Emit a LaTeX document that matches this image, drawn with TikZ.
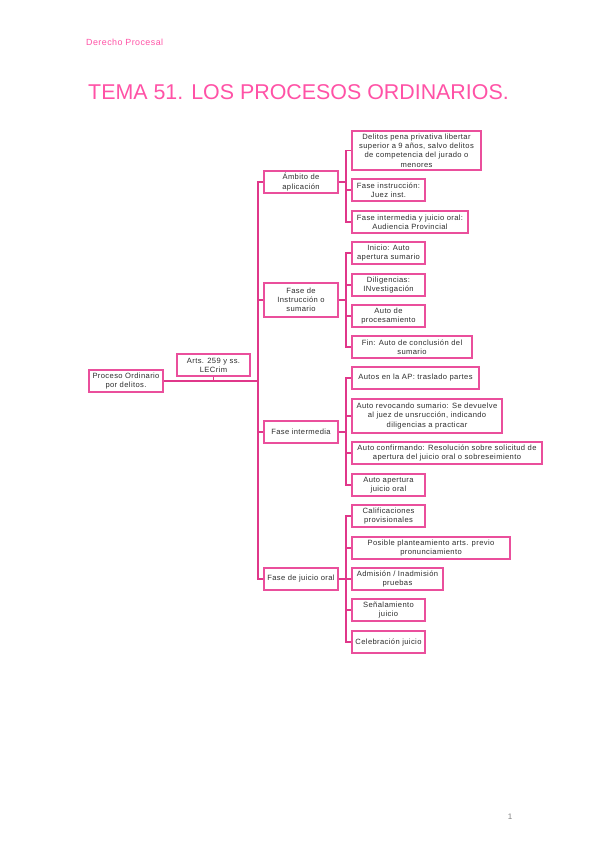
\documentclass[tikz,border=0pt]{standalone}
\usepackage{fontspec}
\setmainfont{Liberation Sans}
\newfontfamily\spacedfont[LetterSpace=5]{Liberation Sans}
\usepackage{tikz}
\usetikzlibrary{positioning}
\usepackage{xcolor}

\definecolor{pinkline}{HTML}{E0378A}
\definecolor{pinkbox}{HTML}{EA4F9C}
\definecolor{pinktitle}{HTML}{FF52A6}
\definecolor{boxtext}{HTML}{2E2E2E}

\begin{document}
\begin{tikzpicture}[
    x=1pt, y=-1pt,
    box/.style={draw=pinkbox, line width=2pt, fill=white, align=center,
        text=boxtext, font=\spacedfont\fontsize{7.6}{9.2}\selectfont,
        inner xsep=1pt, inner ysep=1pt, minimum height=22pt, anchor=west},
    phase/.style={box, minimum width=74pt},
    leaf/.style={box, minimum width=73pt},
    link/.style={draw=pinkline, line width=1.8pt}
]
    \useasboundingbox (0,0) rectangle (599,848);

    % Header and title
    \node[anchor=west, text=pinktitle, font=\spacedfont\fontsize{8.9}{9}\selectfont, inner sep=0pt] (header) at (86,42) {Derecho Procesal};
    \node[anchor=west, text=pinktitle, font=\fontsize{21.4}{24}\selectfont, inner sep=0pt] (title) at (88,92) {TEMA 51. LOS PROCESOS ORDINARIOS.};
    \node[text=gray, font=\fontsize{8}{9}\selectfont, inner sep=0pt] (pagenum) at (510,817) {1};

    % Define nodes
    \node[box, minimum width=74pt] (proceso) at (88,381) {Proceso Ordinario\\por delitos.};
    \node[box, minimum width=73pt] (arts) at (176,365) {Arts. 259 y ss.\\LECrim};

    \node[phase] (ambito) at (263,182) {Ámbito de\\aplicación};
    \node[phase, minimum height=34pt] (instruccion) at (263,300) {Fase de\\Instrucción o\\sumario};
    \node[phase] (intermedia) at (263,432) {Fase intermedia};
    \node[phase] (juicio) at (263,579) {Fase de juicio oral};

    % Ambito de aplicacion
    \node[leaf, minimum width=129pt, minimum height=39pt] (delitos) at (351,150.5) {Delitos pena privativa libertar\\superior a 9 años, salvo delitos\\de competencia del jurado o\\menores};
    \node[leaf] (juezinst) at (351,190) {Fase instrucción:\\Juez inst.};
    \node[leaf, minimum width=116pt] (audiencia) at (351,222) {Fase intermedia y juicio oral:\\Audiencia Provincial};

    % Fase de instruccion
    \node[leaf] (inicio) at (351,253) {Inicio: Auto\\apertura sumario};
    \node[leaf] (diligencias) at (351,285) {Diligencias:\\INvestigación};
    \node[leaf] (procesamiento) at (351,316) {Auto de\\procesamiento};
    \node[leaf, minimum width=120pt] (fin) at (351,347) {Fin: Auto de conclusión del\\sumario};

    % Fase intermedia
    \node[leaf, minimum width=127pt] (traslado) at (351,378) {Autos en la AP: traslado partes};
    \node[leaf, minimum width=150pt, minimum height=34pt] (revocando) at (351,416) {Auto revocando sumario: Se devuelve\\al juez de unsrucción, indicando\\diligencias a practicar};
    \node[leaf, minimum width=190pt] (confirmando) at (351,453) {Auto confirmando: Resolución sobre solicitud de\\apertura del juicio oral o sobreseimiento};
    \node[leaf] (apertura) at (351,485) {Auto apertura\\juicio oral};

    % Fase de juicio oral
    \node[leaf] (calificaciones) at (351,516) {Calificaciones\\provisionales};
    \node[leaf, minimum width=158pt] (planteamiento) at (351,548) {Posible planteamiento arts. previo\\pronunciamiento};
    \node[leaf, minimum width=91pt] (admision) at (351,579) {Admisión / Inadmisión\\pruebas};
    \node[leaf] (senalamiento) at (351,610) {Señalamiento\\juicio};
    \node[leaf] (celebracion) at (351,642) {Celebración juicio};

    % Connections
    \path[link]
        (proceso.east) -- ++(94,0) coordinate (trunk)
        (arts.south) -- (arts.south |- proceso.east)
        (trunk) |- (ambito.west)
        (trunk) |- (instruccion.west)
        (trunk) |- (intermedia.west)
        (trunk) |- (juicio.west);
    \foreach \child in {delitos, juezinst, audiencia}
        \path[link] (ambito.east) -- ++(7,0) |- (\child.west);
    \foreach \child in {inicio, diligencias, procesamiento, fin}
        \path[link] (instruccion.east) -- ++(7,0) |- (\child.west);
    \foreach \child in {traslado, revocando, confirmando, apertura}
        \path[link] (intermedia.east) -- ++(7,0) |- (\child.west);
    \foreach \child in {calificaciones, planteamiento, admision, senalamiento, celebracion}
        \path[link] (juicio.east) -- ++(7,0) |- (\child.west);
\end{tikzpicture}
\end{document}
